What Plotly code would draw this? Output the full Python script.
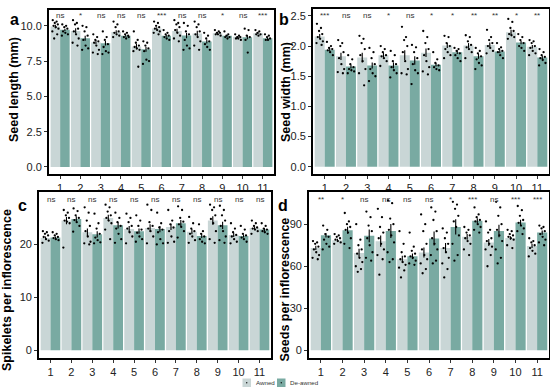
import plotly.graph_objects as go

# ---------------- data ----------------
groups = list(range(1, 12))
tick_labels = [str(g) for g in groups]
series_names = ["Awned", "De-awned"]

# Panel a: Seed length (mm)
len_awned = [9.95, 9.64, 8.84, 9.57, 8.53, 9.81, 9.64, 9.45, 9.48, 9.22, 9.48]
len_deawned = [9.72, 9.12, 8.77, 9.29, 8.34, 9.29, 9.31, 8.89, 9.29, 9.19, 9.12]
len_awned_se = [0.13, 0.18, 0.15, 0.11, 0.20, 0.09, 0.16, 0.20, 0.04, 0.04, 0.04]
len_deawned_se = [0.08, 0.18, 0.16, 0.06, 0.18, 0.07, 0.19, 0.14, 0.05, 0.15, 0.05]
len_sig = ["ns", "*", "ns", "ns", "ns", "***", "ns", "ns", "*", "ns", "***"]
len_awned_pts = [
    [10.4, 10.3, 10.2, 10.1, 10.0, 9.9, 9.8, 9.6, 9.4, 9.1],
    [10.4, 10.2, 10.1, 9.8, 9.6, 9.4, 9.1, 8.8, 8.6],
    [9.4, 9.2, 9.0, 8.9, 8.8, 8.6, 8.3, 8.1, 8.0],
    [10.3, 10.1, 9.9, 9.6, 9.5, 9.4, 9.3, 9.2],
    [9.6, 9.0, 8.8, 8.6, 8.5, 8.4, 8.3, 8.2, 7.1],
    [10.3, 10.2, 10.0, 9.9, 9.8, 9.7, 9.6, 9.5, 9.4],
    [10.4, 10.2, 10.1, 9.9, 9.7, 9.5, 9.3, 9.1, 8.9],
    [10.3, 10.1, 9.9, 9.6, 9.4, 9.2, 8.9, 8.6, 8.3],
    [9.7, 9.6, 9.5, 9.5, 9.4, 9.4, 9.3],
    [9.4, 9.3, 9.2, 9.2, 9.1, 9.1, 9.0],
    [9.7, 9.6, 9.5, 9.4, 9.4, 9.3],
]
len_deawned_pts = [
    [10.1, 10.0, 9.9, 9.8, 9.6, 9.5, 9.4, 9.3],
    [10.0, 9.9, 9.6, 9.3, 9.0, 8.6, 8.4, 8.3],
    [9.6, 9.2, 9.0, 8.7, 8.5, 8.2, 8.1, 8.0],
    [9.6, 9.5, 9.4, 9.3, 9.2, 9.1, 9.2],
    [8.9, 8.8, 8.6, 8.4, 8.2, 7.6, 7.5, 7.3],
    [9.7, 9.5, 9.4, 9.3, 9.2, 9.1, 9.0],
    [10.2, 10.0, 9.6, 9.4, 9.0, 8.6, 8.4, 8.3],
    [9.5, 9.3, 9.1, 8.9, 8.7, 8.5, 8.3],
    [9.6, 9.4, 9.3, 9.2, 9.2, 9.1],
    [9.8, 9.7, 9.3, 9.2, 9.0, 8.1],
    [9.4, 9.3, 9.2, 9.1, 9.0, 9.0],
]

# Panel b: Seed width (mm)
wid_awned = [2.16, 1.83, 1.81, 1.85, 1.85, 1.89, 2.01, 2.01, 2.02, 2.23, 1.99]
wid_deawned = [1.94, 1.66, 1.68, 1.68, 1.76, 1.69, 1.90, 1.83, 1.91, 2.06, 1.81]
wid_awned_se = [0.04, 0.06, 0.08, 0.04, 0.08, 0.07, 0.04, 0.04, 0.04, 0.04, 0.03]
wid_deawned_se = [0.03, 0.03, 0.05, 0.05, 0.07, 0.03, 0.03, 0.04, 0.03, 0.03, 0.03]
wid_sig = ["***", "ns", "ns", "*", "ns", "*", "*", "**", "**", "*", "**"]
wid_awned_pts = [
    [2.37, 2.30, 2.25, 2.20, 2.15, 2.12, 2.08, 2.05, 2.02],
    [2.10, 2.05, 2.00, 1.90, 1.80, 1.70, 1.62, 1.57, 1.55],
    [2.17, 2.12, 2.05, 1.95, 1.85, 1.75, 1.62, 1.55, 1.35],
    [2.00, 1.95, 1.90, 1.85, 1.83, 1.80, 1.75, 1.67],
    [2.32, 2.15, 2.10, 2.00, 1.90, 1.75, 1.62, 1.55, 1.53],
    [2.25, 2.15, 2.05, 1.95, 1.85, 1.75, 1.65, 1.58, 1.53],
    [2.17, 2.15, 2.05, 2.00, 1.95, 1.90, 1.85, 1.80],
    [2.18, 2.15, 2.08, 2.02, 1.98, 1.95, 1.90, 1.80],
    [2.27, 2.15, 2.10, 2.05, 2.00, 1.97, 1.92, 1.88],
    [2.45, 2.40, 2.30, 2.25, 2.20, 2.18, 2.15, 2.12],
    [2.10, 2.08, 2.05, 2.00, 1.97, 1.92, 1.88, 1.85],
]
wid_deawned_pts = [
    [2.07, 2.00, 1.97, 1.95, 1.93, 1.90, 1.85],
    [1.85, 1.78, 1.70, 1.65, 1.62, 1.60, 1.58, 1.55],
    [1.97, 1.90, 1.80, 1.70, 1.62, 1.55, 1.50, 1.42],
    [1.92, 1.85, 1.75, 1.70, 1.65, 1.60, 1.55, 1.48],
    [2.02, 1.98, 1.90, 1.80, 1.70, 1.60, 1.55, 1.37],
    [1.90, 1.78, 1.72, 1.68, 1.65, 1.62, 1.60],
    [1.97, 1.95, 1.92, 1.88, 1.85, 1.80, 1.75],
    [1.97, 1.92, 1.88, 1.83, 1.78, 1.72, 1.68, 1.62],
    [2.05, 1.98, 1.95, 1.92, 1.90, 1.85, 1.80],
    [2.20, 2.15, 2.10, 2.05, 2.00, 1.97, 1.92],
    [1.95, 1.90, 1.85, 1.82, 1.80, 1.77, 1.72, 1.68],
]

# Panel c: Spikelets per inflorescence
spk_awned = [21.2, 24.5, 22.3, 25.0, 22.9, 23.1, 23.3, 22.4, 24.5, 21.8, 23.1]
spk_deawned = [21.3, 24.8, 21.9, 23.6, 22.5, 22.9, 24.0, 21.6, 23.6, 21.6, 22.8]
spk_awned_se = [0.3, 0.7, 0.7, 0.6, 0.6, 0.7, 0.6, 0.5, 0.8, 0.4, 0.3]
spk_deawned_se = [0.2, 0.5, 0.6, 0.6, 0.5, 0.6, 0.6, 0.4, 0.7, 0.3, 0.3]
spk_sig = ["ns"] * 11
spk_awned_pts = [
    [22.5, 22.3, 22.0, 21.7, 21.4, 21.0, 20.7, 20.3],
    [26.5, 26.0, 25.5, 25.0, 24.5, 24.3, 24.0, 19.4],
    [27.0, 26.0, 24.5, 23.5, 22.5, 21.5, 20.5, 20.2, 20.0],
    [27.5, 27.0, 26.2, 25.5, 25.0, 24.5, 24.0, 22.8, 21.0],
    [25.8, 25.0, 24.2, 23.5, 23.0, 22.3, 21.5, 20.2],
    [27.5, 26.5, 24.2, 23.5, 23.0, 22.5, 21.5, 20.2],
    [26.5, 24.5, 23.8, 23.2, 22.5, 21.5, 20.5, 20.3],
    [25.2, 24.0, 23.0, 22.5, 22.0, 21.5, 20.8, 20.3],
    [27.5, 27.0, 26.5, 25.5, 24.8, 24.0, 22.5, 21.0, 20.3],
    [24.0, 23.0, 22.3, 21.8, 21.5, 21.0, 20.5, 20.2],
    [24.5, 24.0, 23.5, 23.2, 23.0, 22.8, 22.5, 22.0],
]
spk_deawned_pts = [
    [22.3, 22.0, 21.7, 21.4, 21.2, 21.0, 20.8],
    [26.8, 26.3, 25.5, 25.0, 24.6, 24.2, 23.5, 22.4],
    [25.8, 24.0, 23.0, 22.0, 21.3, 20.8, 20.4, 20.2],
    [26.0, 25.0, 24.2, 23.5, 23.0, 22.0, 21.0, 20.3],
    [25.5, 24.5, 23.5, 22.8, 22.2, 21.5, 21.0, 20.5],
    [26.0, 24.0, 23.2, 22.8, 22.3, 21.0, 20.2, 20.0],
    [27.2, 26.5, 25.0, 24.3, 23.8, 23.3, 22.5, 21.3],
    [23.8, 22.5, 22.0, 21.5, 21.0, 20.5, 20.2],
    [27.3, 26.5, 25.5, 24.5, 23.5, 22.5, 21.5, 20.8, 20.3],
    [23.5, 22.8, 22.0, 21.7, 21.3, 21.0, 20.5],
    [24.0, 23.5, 23.0, 22.8, 22.5, 22.3, 22.0],
]

# Panel d: Seeds per inflorescence
sds_awned = [73.1, 78.6, 69.5, 77.9, 65.0, 69.8, 73.1, 81.0, 76.9, 80.2, 74.5]
sds_deawned = [82.1, 85.7, 81.7, 85.2, 67.1, 79.8, 88.1, 92.4, 85.2, 91.2, 84.0]
sds_awned_se = [1.5, 1.0, 3.0, 4.0, 2.5, 3.5, 3.5, 2.0, 2.5, 1.2, 1.5]
sds_deawned_se = [1.5, 2.5, 4.5, 5.0, 2.0, 5.0, 5.5, 1.8, 4.5, 2.0, 1.5]
sds_sig = ["**", "*", "ns", "ns", "ns", "ns", "*", "***", "ns", "***", "***"]
sds_awned_pts = [
    [78, 77, 76, 74, 72, 70, 68, 66, 65],
    [83, 82, 81, 80, 79, 78, 77, 76],
    [90, 79, 75, 72, 69, 66, 63, 60, 58, 56],
    [101, 95, 88, 84, 80, 76, 72, 68, 65, 54],
    [85, 76, 70, 67, 65, 63, 61, 59, 57, 52],
    [97, 90, 85, 76, 72, 68, 65, 62, 58, 55],
    [87, 84, 80, 76, 73, 70, 66, 62, 58, 52],
    [88, 86, 84, 82, 80, 78, 76, 72, 68],
    [92, 86, 84, 80, 78, 76, 74, 72, 68, 60],
    [86, 85, 83, 82, 81, 80, 79, 75, 73],
    [80, 78, 77, 75, 73, 71, 69, 67],
]
sds_deawned_pts = [
    [89, 86, 83, 81, 79, 76, 74, 72],
    [98, 92, 90, 88, 86, 84, 80, 76, 73],
    [99, 95, 89, 85, 80, 75, 70, 66, 64],
    [107, 105, 94, 90, 86, 82, 77, 70, 65, 63],
    [84, 74, 71, 69, 67, 66, 64, 62, 61],
    [102, 99, 93, 85, 80, 76, 72, 68, 64, 62],
    [106, 104, 101, 96, 92, 88, 82, 76, 68, 64],
    [102, 97, 95, 93, 92, 90, 88, 86, 84],
    [106, 102, 96, 90, 86, 82, 78, 72, 66, 62],
    [103, 100, 96, 93, 91, 89, 87, 85, 83],
    [89, 88, 87, 85, 83, 81, 79, 77, 75],
]

# ---------------- style ----------------
W, H = 550, 392
COL_AW = "#c9d6d6"
COL_DE = "#79aaa2"
FONT = "Liberation Sans, Arial, sans-serif"
BAR_W = 0.47
HALF = BAR_W / 2
JIT = [-0.13, 0.06, -0.03, 0.12, -0.09, 0.02, 0.15, -0.15, 0.09, -0.06]
TICKFONT = dict(family=FONT, size=11, color="#222222")

panels = [
    dict(key="a", title="Seed length (mm)", aw=len_awned, de=len_deawned,
         aw_se=len_awned_se, de_se=len_deawned_se, sig=len_sig,
         aw_pts=len_awned_pts, de_pts=len_deawned_pts,
         box=(49, 274, 10, 174), yrange=[-0.5, 11.12], tickvals=[0, 2.5, 5, 7.5, 10],
         ticktext=["0.0", "2.5", "5.0", "7.5", "10.0"], sig_y=10.72,
         title_xy=(14, 90), letter_xy=(14, 20)),
    dict(key="b", title="Seed width (mm)", aw=wid_awned, de=wid_deawned,
         aw_se=wid_awned_se, de_se=wid_deawned_se, sig=wid_sig,
         aw_pts=wid_awned_pts, de_pts=wid_deawned_pts,
         box=(313, 549, 9, 174), yrange=[-0.12, 2.615], tickvals=[0, 0.5, 1, 1.5, 2, 2.5],
         ticktext=["0.0", "0.5", "1.0", "1.5", "2.0", "2.5"], sig_y=2.5,
         title_xy=(286, 92), letter_xy=(284, 20)),
    dict(key="c", title="Spikelets per inflorescence", aw=spk_awned, de=spk_deawned,
         aw_se=spk_awned_se, de_se=spk_deawned_se, sig=spk_sig,
         aw_pts=spk_awned_pts, de_pts=spk_deawned_pts,
         box=(39, 271, 192, 358), yrange=[-1.45, 29.9], tickvals=[0, 10, 20],
         ticktext=["0", "10", "20"], sig_y=28.5,
         title_xy=(7, 290), letter_xy=(22, 205)),
    dict(key="d", title="Seeds per inflorescence", aw=sds_awned, de=sds_deawned,
         aw_se=sds_awned_se, de_se=sds_deawned_se, sig=sds_sig,
         aw_pts=sds_awned_pts, de_pts=sds_deawned_pts,
         box=(309, 549, 192, 358), yrange=[-5.5, 113], tickvals=[0, 30, 60, 90],
         ticktext=["0", "30", "60", "90"], sig_y=108,
         title_xy=(284.5, 289), letter_xy=(283, 205)),
]

fig = go.Figure()
annotations = []
shapes = []

for i, p in enumerate(panels):
    n = "" if i == 0 else str(i + 1)
    xa, ya = "x" + n, "y" + n
    x0, x1, y0, y1 = p["box"]
    xdom = [x0 / W, x1 / W]
    ydom = [1 - y1 / H, 1 - y0 / H]
    axis_common = dict(showgrid=False, zeroline=False, showline=True, mirror=True,
                       linecolor="black", linewidth=1.8, ticks="outside", ticklen=3,
                       tickcolor="#333333", tickwidth=1, ticklabeloverflow="allow",
                       tickfont=TICKFONT)
    fig.layout["xaxis" + n] = dict(domain=xdom, anchor=ya, range=[0.45, 11.55],
                                   tickvals=groups, ticktext=tick_labels, **axis_common)
    fig.layout["yaxis" + n] = dict(domain=ydom, anchor=xa, range=p["yrange"],
                                   tickvals=p["tickvals"], ticktext=p["ticktext"], **axis_common)

    for name, vals, se, pts, col, sign in [
        ("Awned", p["aw"], p["aw_se"], p["aw_pts"], COL_AW, -1),
        ("De-awned", p["de"], p["de_se"], p["de_pts"], COL_DE, 1),
    ]:
        centers = [g + sign * HALF for g in groups]
        fig.add_trace(go.Bar(
            x=centers, y=vals, width=BAR_W, name=name, marker=dict(color=col, line=dict(width=0)),
            error_y=dict(type="data", array=se, width=0, thickness=1.1, color="black"),
            xaxis=xa, yaxis=ya, showlegend=False))
        px, py = [], []
        for c, vals_g in zip(centers, pts):
            for k, v in enumerate(vals_g):
                px.append(c + JIT[k % len(JIT)])
                py.append(v)
        fig.add_trace(go.Scatter(
            x=px, y=py, mode="markers", marker=dict(color="black", size=2.3),
            xaxis=xa, yaxis=ya, showlegend=False, hoverinfo="skip"))

    for g, s in zip(groups, p["sig"]):
        annotations.append(dict(x=g, y=p["sig_y"], xref=xa, yref=ya, text=s, showarrow=False,
                                font=dict(family=FONT, size=8, color="#333333"),
                                xanchor="center", yanchor="middle"))
    tx, ty = p["title_xy"]
    annotations.append(dict(x=tx / W, y=1 - ty / H, xref="paper", yref="paper", text="<b>%s</b>" % p["title"],
                            textangle=-90, showarrow=False, xanchor="center", yanchor="middle",
                            font=dict(family=FONT, size=12.5, color="black")))
    lx, ly = p["letter_xy"]
    annotations.append(dict(x=lx / W, y=1 - ly / H, xref="paper", yref="paper", text="<b>%s</b>" % p["key"],
                            showarrow=False, xanchor="center", yanchor="middle",
                            font=dict(family=FONT, size=16, color="black")))

# legend (drawn as keys: swatch with a centred dot, then label)
legend_keys = [(242.5, COL_AW, "Awned"), (277.0, COL_DE, "De-awned")]
for lx0, col, label in legend_keys:
    shapes.append(dict(type="rect", xref="paper", yref="paper",
                       x0=lx0 / W, x1=(lx0 + 8.5) / W, y0=1 - 387 / H, y1=1 - 378.5 / H,
                       fillcolor=col, line=dict(width=0)))
    shapes.append(dict(type="circle", xref="paper", yref="paper",
                       x0=(lx0 + 3.6) / W, x1=(lx0 + 4.9) / W, y0=1 - 383.4 / H, y1=1 - 382.1 / H,
                       fillcolor="black", line=dict(width=0)))
    annotations.append(dict(x=(lx0 + 11) / W, y=1 - 382.8 / H, xref="paper", yref="paper", text=label,
                            showarrow=False, xanchor="left", yanchor="middle",
                            font=dict(family=FONT, size=6.2, color="#333333")))

fig.update_layout(
    width=W, height=H, margin=dict(l=0, r=0, t=0, b=0),
    paper_bgcolor="white", plot_bgcolor="white", barmode="overlay",
    annotations=annotations, shapes=shapes, showlegend=False,
)

fig.write_html("out.html", config={"displayModeBar": False},
               post_script="document.body.style.margin='0';document.body.style.overflow='hidden';")
